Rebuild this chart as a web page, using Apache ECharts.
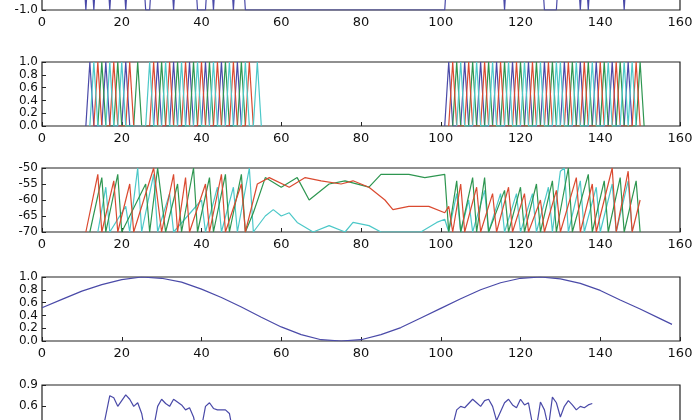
<!DOCTYPE html><html><head><meta charset="utf-8"><script src="https://cdn.jsdelivr.net/npm/echarts@6/dist/echarts.min.js"></script>
<style>html,body{margin:0;padding:0;background:#fff;overflow:hidden}#c{width:700px;height:540px;margin-top:-60px}</style></head><body><div id="c"></div><script>
const xTicks=[0,20,40,60,80,100,120,140,160];
// panel 1: blue signal (bottom part visible)
const p1=[[0,1],[10,1],[11,-1],[12,1],[13,-1],[14,1],[16,1],[17,-1],[18,1],[20,1],[21,-1],[22,1],[25,1],[26,-1],[27,-1],[28,1],[32,1],[33,-1],[34,1],[38,1],[39,-1],[41,-1],[42,1],[43,-1],[44,1],[47,1],[48,-1],[49,1],[50,1],[51,-1],[101,-1],[102,1],[115,1],[116,-1],[117,1],[125,1],[126,-1],[129,-1],[130,1],[134,1],[135,-1],[136,1],[137,-1],[138,1],[145,1],[146,-1],[147,1],[150,1]];
// panel 2: spike peak positions per series
const p2Blue=[12,16,21,29,33,37,41,45,49,102,106,110,114,118,122,126,131,135,139,143,147];
const p2Red=[14,18,22,28,32,36,40,44,48,52,103,107,111,115,119,123,127,132,136,140,144,149];
const p2Green=[15,19,24,30,34,38,42,46,50,104,108,112,116,120,124,128,133,137,141,145,150];
const p2Cyan=[13,17,20,27,31,35,39,43,47,51,54,105,109,113,117,121,125,129,130,134,138,142,146,148];
// panel 3
const p3Red=[[11,-70],[14,-52],[15,-70],[18,-54],[19,-70],[22,-55],[23,-70],[28,-50],[30,-70],[33,-52],[34,-70],[36,-53],[37,-70],[41,-55],[42,-70],[45,-52],[46,-70],[50,-55],[51,-70],[54,-55],[57,-53],[62,-56],[66,-53],[70,-54],[75,-55],[78,-54],[82,-56],[86,-60],[88,-63],[92,-62],[97,-62],[101,-64],[102,-62],[103,-70],[105,-55],[106,-70],[109,-56],[110,-70],[113,-58],[114,-70],[117,-56],[118,-70],[121,-58],[122,-70],[125,-60],[126,-70],[129,-57],[130,-70],[134,-53],[135,-70],[138,-55],[139,-70],[143,-50],[144,-70],[147,-51],[148,-70],[150,-60]];
const p3Green=[[12,-70],[15,-53],[16,-70],[19,-52],[20,-70],[26,-55],[27,-70],[29,-50],[31,-70],[34,-55],[35,-70],[38,-50],[39,-70],[42,-53],[43,-70],[46,-52],[47,-70],[50,-52],[51,-70],[53,-64],[56,-53],[60,-56],[64,-53],[67,-60],[72,-55],[76,-54],[82,-56],[85,-52],[92,-52],[96,-53],[101,-52],[102,-70],[104,-54],[105,-70],[108,-53],[109,-70],[111,-53],[112,-70],[116,-57],[117,-70],[120,-56],[121,-70],[124,-55],[125,-70],[128,-54],[129,-70],[132,-50],[133,-70],[137,-52],[138,-70],[141,-54],[142,-70],[145,-53],[146,-70],[149,-54],[150,-70]];
const p3Cyan=[[14,-70],[16,-56],[17,-70],[21,-62],[22,-70],[24,-50],[25,-70],[28,-52],[29,-70],[32,-58],[33,-70],[40,-60],[41,-70],[44,-56],[45,-70],[48,-56],[49,-70],[52,-50],[53,-70],[56,-65],[58,-63],[60,-65],[62,-64],[64,-67],[68,-70],[72,-68],[76,-70],[78,-67],[82,-68],[85,-70],[95,-70],[99,-67],[101,-66],[102,-70],[104,-58],[105,-70],[107,-60],[108,-70],[111,-57],[112,-70],[115,-58],[116,-70],[119,-58],[120,-70],[123,-58],[124,-70],[127,-56],[128,-70],[130,-51],[131,-50],[132,-70],[135,-54],[136,-70],[139,-56],[140,-70],[143,-55],[144,-70],[147,-54],[148,-70]];
// panel 4: smooth wave
const p4X=[0,5,10,15,20,25,30,35,40,45,50,55,60,65,70,75,80,85,90,95,100,105,110,115,120,125,130,135,140,145,150,155,158];
const p4Y=[0.52,0.65,0.78,0.88,0.96,1.0,0.98,0.92,0.81,0.68,0.53,0.37,0.22,0.10,0.02,0.0,0.02,0.10,0.21,0.36,0.51,0.66,0.80,0.91,0.98,1.0,0.97,0.90,0.79,0.64,0.50,0.35,0.26];
// panel 5
const p5=[[0,0.1],[14,0.1],[15,0.2],[17,0.75],[18,0.72],[19,0.6],[21,0.76],[22,0.7],[23,0.6],[24,0.65],[25,0.5],[26,0.2],[28,0.3],[29,0.6],[30,0.7],[31,0.64],[32,0.6],[33,0.7],[35,0.62],[36,0.55],[37,0.58],[38,0.45],[39,0.2],[40,0.3],[41,0.6],[42,0.65],[43,0.57],[44,0.55],[46,0.55],[47,0.5],[48,0.2],[50,0.1],[102,0.1],[104,0.55],[105,0.6],[106,0.58],[108,0.7],[109,0.65],[110,0.6],[111,0.68],[112,0.7],[113,0.6],[114,0.4],[116,0.65],[117,0.7],[118,0.62],[119,0.58],[120,0.7],[121,0.62],[122,0.65],[123,0.35],[124,0.3],[125,0.66],[126,0.55],[127,0.3],[128,0.73],[129,0.65],[130,0.45],[131,0.6],[132,0.68],[133,0.62],[134,0.55],[135,0.6],[136,0.58],[137,0.62],[138,0.64]];

const C={b:'#4a4aa8',g:'#2e9650',r:'#da4a30',c:'#4cc8c8'};
function spikes(peaks){const d=[];let prev=null;peaks.forEach(p=>{if(prev!==null&&p-prev>20)d.push([null,null]);d.push([p-1,0],[p,1],[p+1,0]);prev=p;});return d;}
const tops=[6,122,228,337,445],H=64;
const yCfg=[{min:-1,max:1,interval:0.5,f:v=>v.toFixed(1)},{min:0,max:1,interval:0.2,f:v=>v.toFixed(1)},{min:-70,max:-50,interval:5,f:v=>String(v)},{min:0,max:1,interval:0.2,f:v=>v.toFixed(1)},{min:0,max:0.9,interval:0.3,f:v=>v.toFixed(1)}];
const grid=tops.map(t=>({left:42,right:20,top:t,height:H,show:true,borderColor:'#222',borderWidth:1.2}));
const ax={color:'#111',fontFamily:'DejaVu Sans',fontSize:13};
const xAxis=tops.map((t,i)=>({type:'value',gridIndex:i,min:0,max:160,interval:20,axisLine:{show:false},axisTick:{inside:true,length:4,lineStyle:{color:'#222'}},splitLine:{show:false},axisLabel:{...ax,margin:6}}));
const yAxis=yCfg.map((c,i)=>({type:'value',gridIndex:i,min:c.min,max:c.max,interval:c.interval,axisLine:{show:false},axisTick:{show:true,inside:true,length:4,lineStyle:{color:'#222'}},splitLine:{show:false},axisLabel:{...ax,fontSize:12,margin:4,formatter:c.f}}));
function L(i,data,color){return {type:'line',xAxisIndex:i,yAxisIndex:i,data,showSymbol:false,clip:true,connectNulls:false,lineStyle:{color,width:1.2},itemStyle:{color},animation:false};}
const series=[L(0,p1,C.b),
L(1,spikes(p2Blue),C.b),L(1,spikes(p2Green),C.g),L(1,spikes(p2Red),C.r),L(1,spikes(p2Cyan),C.c),
L(2,p3Cyan,C.c),L(2,p3Green,C.g),L(2,p3Red,C.r),
L(3,p4X.map((x,k)=>[x,p4Y[k]]),C.b),L(4,p5,C.b)];
const ch=echarts.init(document.getElementById('c'));
ch.setOption({animation:false,grid,xAxis,yAxis,series});
</script></body></html>
